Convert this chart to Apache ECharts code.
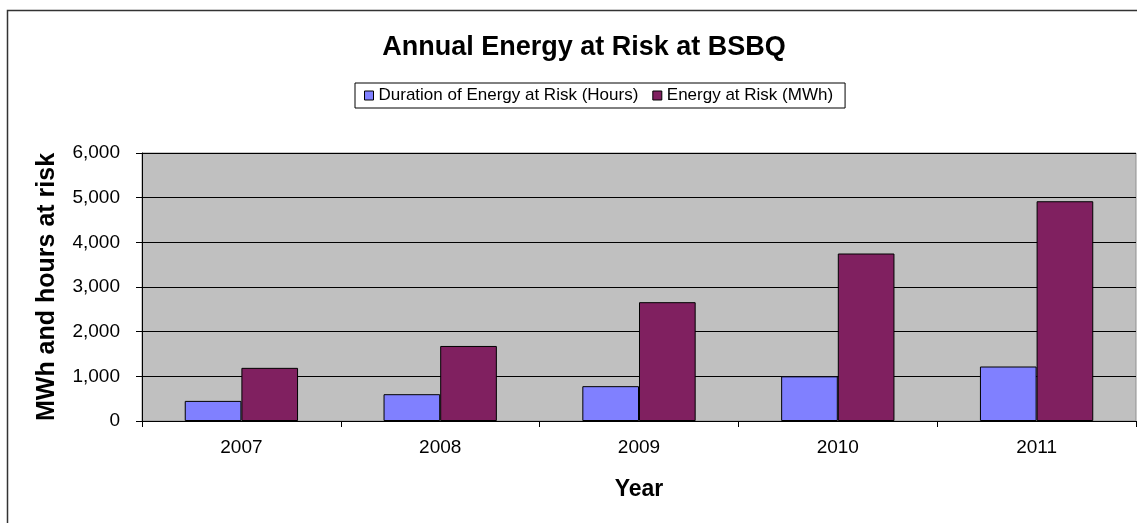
<!DOCTYPE html>
<html>
<head>
<meta charset="utf-8">
<script src="https://cdn.jsdelivr.net/npm/echarts@6/dist/echarts.min.js"></script>
<style>html,body{margin:0;padding:0;background:#fff;}#c{width:1137px;height:523px;}</style>
</head>
<body>
<div id="c"></div>
<script>
const years = ['2007', '2008', '2009', '2010', '2011'];
const durationHours = [450, 600, 780, 1000, 1220];
const energyMWh = [1190, 1680, 2660, 3750, 4920];
const seriesNames = ['Duration of Energy at Risk (Hours)', 'Energy at Risk (MWh)'];

const font = '"Liberation Sans", Arial, sans-serif';
const chart = echarts.init(document.getElementById('c'), null, {renderer: 'canvas'});
chart.setOption({
  animation: false,
  backgroundColor: '#fff',
  textStyle: {fontFamily: font},
  graphic: [{
    type: 'rect', shape: {x: 7.5, y: 10.5, width: 1140, height: 530},
    style: {fill: 'none', stroke: '#333', lineWidth: 1.5}, silent: true, z: -1
  }],
  title: {
    text: 'Annual Energy at Risk at BSBQ', left: 579, textAlign: 'center', top: 29,
    textStyle: {fontFamily: font, fontSize: 27, fontWeight: 'bold', color: '#000'}
  },
  legend: {
    top: 83, left: 355,
    itemWidth: 9, itemHeight: 9, itemGap: 14,
    padding: [4, 12, 4, 9],
    borderColor: '#000', borderWidth: 1,
    icon: 'rect',
    itemStyle: {borderColor: '#000', borderWidth: 1},
    textStyle: {fontFamily: font, fontSize: 17, color: '#000', padding: [0, 0, 0, 0]},
    data: seriesNames
  },
  grid: {
    left: 142, right: 1, top: 153, bottom: 102,
    show: true, backgroundColor: '#c0c0c0', borderColor: '#909090', borderWidth: 1
  },
  xAxis: {
    type: 'category', data: years,
    name: 'Year', nameLocation: 'middle', nameGap: 57,
    nameTextStyle: {fontFamily: font, fontSize: 23, fontWeight: 'bold', color: '#000'},
    axisLine: {lineStyle: {color: '#000', width: 1}},
    axisTick: {show: true, length: 6, lineStyle: {color: '#000'}},
    axisLabel: {fontFamily: font, fontSize: 19, color: '#000', margin: 17}
  },
  yAxis: {
    type: 'value', min: 0, max: 6000, interval: 1000,
    name: 'MWh and hours at risk', nameLocation: 'middle', nameGap: 82, nameRotate: 90,
    nameTextStyle: {fontFamily: font, fontSize: 25, fontWeight: 'bold', color: '#000'},
    axisLine: {show: true, lineStyle: {color: '#000', width: 1}},
    axisTick: {show: true, length: 6, lineStyle: {color: '#000'}},
    axisLabel: {fontFamily: font, fontSize: 19, color: '#000', margin: 22,
      formatter: v => v.toLocaleString('en-US')},
    splitLine: {lineStyle: {color: '#000', width: 1}}
  },
  series: [
    {name: seriesNames[0], type: 'bar', data: durationHours, barGap: '0%', barCategoryGap: '43%',
     itemStyle: {color: '#8080ff', borderColor: '#000', borderWidth: 1}},
    {name: seriesNames[1], type: 'bar', data: energyMWh, barGap: '0%', barCategoryGap: '43%',
     itemStyle: {color: '#802060', borderColor: '#000', borderWidth: 1}}
  ]
});
</script>
</body>
</html>
